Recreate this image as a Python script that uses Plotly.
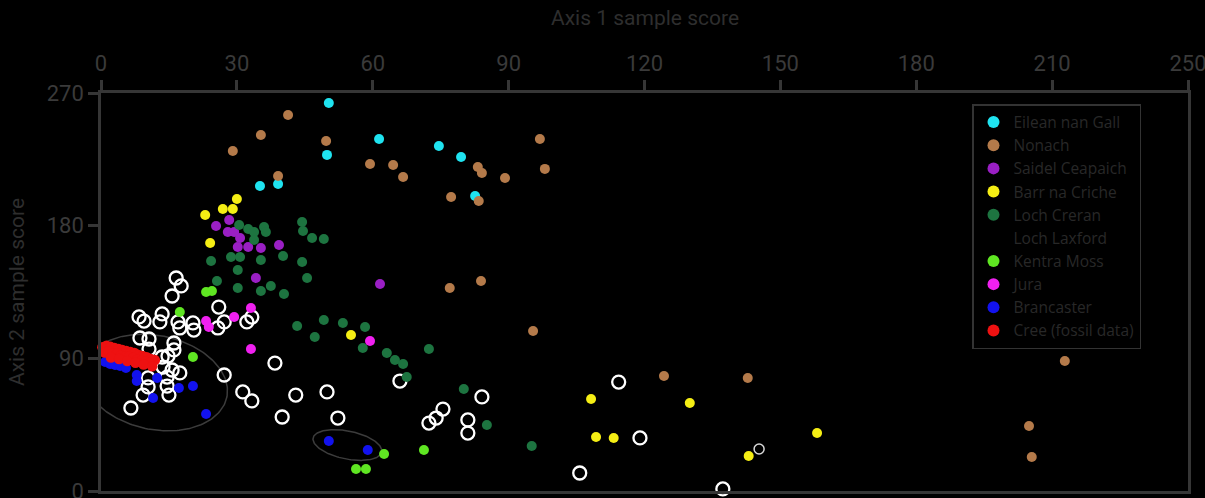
import numpy as np
import plotly.graph_objects as go

# ---------------- data ----------------
eilean_x = [50.3, 61.4, 49.9, 74.6, 79.5, 82.6, 35.1, 39.1]
eilean_y = [263.2, 238.8, 228.0, 234.0, 226.6, 200.1, 206.9, 208.3]

nonach_x = [41.3, 35.3, 29.1, 49.7, 59.4, 39.1, 64.5, 66.7, 83.2, 84.1, 89.2, 96.9,
            98.0, 77.3, 83.4, 77.0, 83.9, 95.4, 124.3, 142.8, 212.8, 204.9, 205.5]
nonach_y = [255.1, 241.5, 230.7, 237.4, 221.8, 213.7, 221.2, 213.0, 219.8, 215.7, 212.3, 238.8,
            218.5, 199.5, 196.7, 137.7, 142.5, 108.5, 78.0, 76.7, 88.2, 44.1, 23.1]

saidel_x = [28.3, 25.4, 28.0, 29.4, 30.7, 30.2, 32.5, 35.3, 39.3, 34.2, 61.6]
saidel_y = [183.9, 179.8, 175.7, 175.7, 171.6, 165.5, 165.5, 164.9, 166.9, 144.5, 140.4]

barr_x = [30.0, 26.9, 29.1, 23.0, 24.1, 55.2, 108.2, 130.0, 109.3, 113.2, 143.0, 158.1]
barr_y = [198.1, 191.3, 191.3, 187.2, 168.2, 105.8, 62.4, 59.7, 36.6, 36.0, 23.7, 39.3]

creran_x = [30.5, 32.5, 33.8, 36.0, 36.4, 33.8, 44.4, 44.6, 46.6, 49.2, 40.2, 24.3,
            28.7, 30.7, 35.3, 44.4, 30.2, 25.6, 45.5, 30.2, 35.3, 37.5, 40.4, 43.3,
            47.2, 49.2, 53.4, 58.3, 57.8, 63.1, 64.9, 66.7, 67.5, 72.4, 80.1, 85.2, 95.1]
creran_y = [180.5, 177.7, 175.7, 179.1, 175.7, 170.3, 182.5, 176.4, 171.6, 171.0, 159.4, 156.0,
            158.8, 158.8, 156.7, 155.4, 149.9, 142.5, 144.5, 137.7, 135.7, 139.1, 133.6, 111.9,
            104.5, 116.0, 114.0, 111.3, 97.0, 93.6, 88.9, 86.2, 77.3, 96.3, 69.2, 44.8, 30.5]

laxford_x = [16.6, 17.7, 15.7, 8.4, 9.5, 13.5, 13.0, 17.0, 17.4, 20.3, 20.5, 26.0,
             27.2, 25.8, 32.2, 33.3, 8.6, 10.6, 10.6, 16.1, 16.1, 13.5, 14.8, 13.7,
             15.7, 17.4, 10.4, 14.6, 10.4, 14.6, 9.3, 15.0, 6.6, 27.2, 31.3, 33.3,
             38.4, 43.0, 49.9, 40.0, 52.3, 66.0, 75.5, 74.0, 72.4, 81.0, 81.0, 84.1,
             114.3, 119.0, 105.7, 137.3]
laxford_y = [144.5, 139.1, 132.3, 118.1, 115.3, 120.1, 114.7, 114.7, 110.6, 114.0, 109.2, 124.8,
             114.7, 110.6, 114.7, 118.0, 103.8, 103.1, 96.3, 100.4, 95.7, 90.9, 91.6, 84.1,
             82.1, 80.1, 76.7, 77.3, 70.6, 71.2, 65.1, 65.1, 56.3, 78.7, 67.2, 61.1,
             86.8, 65.1, 67.2, 50.2, 49.5, 74.6, 55.6, 49.5, 46.1, 48.2, 39.3, 63.8,
             73.9, 36.0, 12.2, 1.4]
laxford_small_x = [145.3]
laxford_small_y = [28.5]

kentra_x = [23.2, 24.5, 17.4, 20.3, 62.5, 56.3, 58.5, 71.3]
kentra_y = [135.0, 135.7, 121.4, 90.9, 25.1, 14.9, 14.9, 27.8]

jura_x = [33.1, 29.4, 23.2, 23.8, 33.1, 59.4]
jura_y = [124.2, 118.0, 115.3, 111.3, 96.3, 101.8]

bran_x = [0.9, 2.0, 3.1, 4.2, 5.5, 7.9, 7.9, 12.4, 11.5, 17.2, 20.3, 23.2, 50.3, 58.9]
bran_y = [87.5, 86.2, 85.5, 84.8, 83.4, 78.7, 74.6, 76.7, 63.1, 69.9, 71.2, 52.2, 33.9, 27.8]

cree_x = [0.3, 1.2, 2.1, 3.0, 3.9, 4.7, 5.6, 6.5, 7.4, 8.3, 9.2, 10.1, 11.0, 11.9,
          0.8, 1.7, 2.6, 3.5, 4.4, 5.3, 6.2, 7.1, 8.0, 8.9, 9.8, 10.7,
          2.2, 4.0, 5.8, 7.6, 9.4, 11.3]
cree_y = [97.5, 98.5, 97.8, 97.0, 96.3, 95.6, 95.0, 94.3, 93.6, 92.2, 91.5, 90.8, 89.5, 88.8,
          94.0, 94.8, 93.4, 93.2, 92.0, 91.2, 91.0, 90.4, 89.1, 88.4, 87.6, 86.9,
          90.5, 89.6, 88.2, 87.0, 85.8, 84.6]

x_tickvals = [0, 30, 60, 90, 120, 150, 180, 210, 240]
x_ticktext = ["0", "30", "60", "90", "120", "150", "180", "210", "250"]
y_tickvals = [0, 90, 180, 270]

# ---------------- layout constants ----------------
W, H = 1205, 498
ML, MR, MT, MB = 101, 17, 93, 7
X_RANGE = [0, 240]
Y_RANGE = [0, 270]
px_per_x = (W - ML - MR) / (X_RANGE[1] - X_RANGE[0])
px_per_y = (H - MT - MB) / (Y_RANGE[1] - Y_RANGE[0])

# ellipse outlines: centre (data), semi-axes (px), tilt (deg, clockwise on screen)
ellipses = [
    dict(cx=12.0, cy=73.6, a=73, b=47, ang=11.5),
    dict(cx=54.4, cy=31.2, a=35, b=14, ang=11.5),
]

AX_COL = "#363636"
FONT_FAM = "Roboto, 'Open Sans', sans-serif"
TICK_FONT = dict(family=FONT_FAM, size=22, color="#3a3a3a")
DOT = 10

fig = go.Figure()

for e in ellipses:
    t = np.linspace(0, 2 * np.pi, 200)
    th = np.deg2rad(e["ang"])
    dx = e["a"] * np.cos(t) * np.cos(th) - e["b"] * np.sin(t) * np.sin(th)
    dy = e["a"] * np.cos(t) * np.sin(th) + e["b"] * np.sin(t) * np.cos(th)
    fig.add_trace(go.Scatter(x=e["cx"] + dx / px_per_x, y=e["cy"] - dy / px_per_y,
                             mode="lines", line=dict(color="#3c3c3c", width=1.5),
                             hoverinfo="skip", showlegend=False, cliponaxis=False))

def pts(name, xs, ys, color, size=DOT, show=True):
    fig.add_trace(go.Scatter(x=xs, y=ys, mode="markers", name=name, showlegend=show,
                             marker=dict(color=color, size=size, line=dict(width=0)),
                             cliponaxis=False))

# Loch Laxford open circles (drawn, legend entry separate)
fig.add_trace(go.Scatter(x=laxford_x, y=laxford_y, mode="markers", name="Loch Laxford",
                         showlegend=False, cliponaxis=False,
                         marker=dict(symbol="circle-open", size=13, color="white",
                                     line=dict(width=2.3, color="white"))))
fig.add_trace(go.Scatter(x=laxford_small_x, y=laxford_small_y, mode="markers",
                         showlegend=False, cliponaxis=False,
                         marker=dict(symbol="circle-open", size=10, color="#d8d8d8",
                                     line=dict(width=1.5, color="#d8d8d8"))))

pts("Eilean nan Gall", eilean_x, eilean_y, "#1fe3f0")
pts("Nonach", nonach_x, nonach_y, "#b47a4a")
pts("Saidel Ceapaich", saidel_x, saidel_y, "#9a1fc4")
pts("Barr na Criche", barr_x, barr_y, "#f5ee14")
pts("Loch Creran", creran_x, creran_y, "#1d7440")
# legend-only entry for Loch Laxford (symbol invisible as in the reference)
fig.add_trace(go.Scatter(x=[None], y=[None], mode="markers", name="Loch Laxford",
                         marker=dict(color="black", size=DOT)))
pts("Kentra Moss", kentra_x, kentra_y, "#5fe622")
pts("Jura", jura_x, jura_y, "#f020f0")
pts("Brancaster", bran_x, bran_y, "#1212ee")
pts("Cree (fossil data)", cree_x, cree_y, "#ee1111", size=10.5)

fig.update_layout(
    width=W, height=H,
    margin=dict(l=ML, r=MR, t=MT, b=MB, pad=0, autoexpand=False),
    paper_bgcolor="black", plot_bgcolor="black",
    showlegend=True,
    legend=dict(x=(972 - ML) / (W - ML - MR), y=1 - (104 - MT) / (H - MT - MB),
                xanchor="left", yanchor="top", bgcolor="black",
                bordercolor="#333333", borderwidth=1.5,
                font=dict(family="'Open Sans', sans-serif", size=15.5, color="#282828"),
                itemsizing="constant", tracegroupgap=0),
    xaxis=dict(range=X_RANGE, side="top", tickvals=x_tickvals, ticktext=x_ticktext,
               showgrid=False, zeroline=False, showline=True, linecolor=AX_COL, linewidth=2.5,
               mirror=True, ticks="outside", ticklen=10, tickwidth=2.5, tickcolor=AX_COL,
               tickfont=TICK_FONT, ticklabeloverflow="allow", automargin=False),
    yaxis=dict(range=Y_RANGE, tickvals=y_tickvals,
               showgrid=False, zeroline=False, showline=True, linecolor=AX_COL, linewidth=2.5,
               mirror=True, ticks="outside", ticklen=10, tickwidth=2.5, tickcolor=AX_COL,
               tickfont=TICK_FONT, ticklabeloverflow="allow", automargin=False),
    annotations=[
        dict(text="Axis 1 sample score", xref="paper", yref="paper",
             x=0.5, y=1 + (MT - 18) / (H - MT - MB), xanchor="center", yanchor="middle",
             showarrow=False, font=dict(family=FONT_FAM, size=21, color="#2e2e2e")),
        dict(text="Axis 2 sample score", xref="paper", yref="paper",
             x=(17 - ML) / (W - ML - MR), y=0.5, xanchor="center", yanchor="middle",
             textangle=-90, showarrow=False,
             font=dict(family=FONT_FAM, size=21, color="#2e2e2e")),
    ],
)

fig.write_html("out.html")
